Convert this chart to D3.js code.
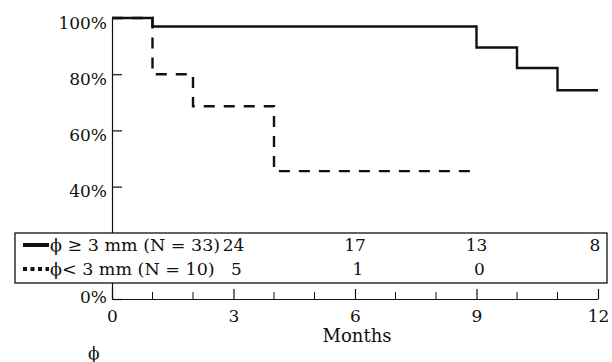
<!DOCTYPE html>
<html>
<head>
<meta charset="utf-8">
<script src="https://cdn.jsdelivr.net/npm/d3@7"></script>
<style>
  body { margin: 0; background: #fff; }
  text { font-family: "DejaVu Serif", serif; fill: #111; }
</style>
</head>
<body>
<div id="chart"></div>
<script>
// datos
const largeMonths = [0, 1, 9, 10, 11, 12];
const largeSurv = [100, 97, 89.5, 82.2, 74.3, 74.3];
const smallMonths = [0, 1, 2, 4, 9];
const smallSurv = [100, 80, 68.6, 45.5, 45.5];

const yTicks = [0, 20, 40, 60, 80, 100];
const xMajor = [0, 3, 6, 9, 12];
const xMinor = [1, 2, 4, 5, 7, 8, 10, 11];

const riskMonths = [3, 6, 9, 12];
const riskLarge = [24, 17, 13, 8];
const riskSmall = [5, 1, 0];
const legendLabels = ["ϕ ≥ 3 mm (N = 33)", "ϕ< 3 mm (N = 10)"];

const width = 612;
const height = 362;
const margin = { top: 18, bottom: 63, left: 112, right: 14 };

const svg = d3
  .select("div#chart")
  .append("svg")
  .attr("width", width)
  .attr("height", height);

const x = d3.scaleLinear().domain([0, 12]).range([margin.left, width - margin.right]);
const y = d3.scaleLinear().domain([0, 100]).range([height - margin.bottom, margin.top]);

// ejes
const xAxisGroup = svg.append("g").attr("transform", `translate(0, ${y(0)})`);
xAxisGroup.call(
  d3.axisBottom(x).tickValues(xMajor).tickSize(-10).tickPadding(11).tickSizeOuter(0)
);
xAxisGroup
  .selectAll(".minor")
  .data(xMinor)
  .enter()
  .append("line")
  .attr("class", "minor")
  .attr("x1", (d) => x(d))
  .attr("x2", (d) => x(d))
  .attr("y1", 0)
  .attr("y2", -7)
  .attr("stroke", "#111");

// la etiqueta 20% queda tapada por la caja de la leyenda
const yAxisGroup = svg.append("g").attr("transform", `translate(${x(0)}, 0)`);
yAxisGroup.call(
  d3.axisLeft(y).tickValues(yTicks).tickSize(-10).tickPadding(5).tickSizeOuter(0)
    .tickFormat((d) => (d == 20 ? "" : d + "%"))
);
yAxisGroup.selectAll(".tick text").attr("dy", (d) => (d == 0 ? "3px" : "10px"));

svg.selectAll(".domain, .tick line").attr("stroke", "#111").attr("stroke-width", 1.2);
svg.selectAll(".tick text")
  .attr("font-family", "DejaVu Serif")
  .attr("font-size", 17)
  .attr("fill", "#111");

// curvas
const line = d3.line().x((d) => x(d[0])).y((d) => y(d[1])).curve(d3.curveStepAfter);

svg.append("path")
  .datum(largeMonths.map((m, i) => [m, largeSurv[i]]))
  .attr("d", line)
  .attr("fill", "none")
  .attr("stroke", "#111")
  .attr("stroke-width", 2.4);

svg.append("path")
  .datum(smallMonths.map((m, i) => [m, smallSurv[i]]))
  .attr("d", line)
  .attr("fill", "none")
  .attr("stroke", "#111")
  .attr("stroke-width", 2.4)
  .attr("stroke-dasharray", "11,9");

// leyenda + pacientes en riesgo
const box = { x: 15, y: 233, w: 592, h: 50 };
svg.append("rect")
  .attr("x", box.x)
  .attr("y", box.y)
  .attr("width", box.w)
  .attr("height", box.h)
  .attr("fill", "#fff")
  .attr("stroke", "#111")
  .attr("stroke-width", 1.3);

const rows = [251, 275];
svg.append("line")
  .attr("x1", 23).attr("x2", 49)
  .attr("y1", rows[0] - 6).attr("y2", rows[0] - 6)
  .attr("stroke", "#111").attr("stroke-width", 4);
svg.append("line")
  .attr("x1", 23).attr("x2", 49)
  .attr("y1", rows[1] - 6).attr("y2", rows[1] - 6)
  .attr("stroke", "#111").attr("stroke-width", 4)
  .attr("stroke-dasharray", "4,3.5");

svg.selectAll(".legend-label")
  .data(legendLabels)
  .enter()
  .append("text")
  .attr("class", "legend-label")
  .attr("x", 50)
  .attr("y", (d, i) => rows[i])
  .attr("font-size", 17.5)
  .text((d) => d);

svg.selectAll(".risk-large")
  .data(riskLarge)
  .enter()
  .append("text")
  .attr("class", "risk-large")
  .attr("x", (d, i) => x(riskMonths[i]) - (i == 3 ? 3 : 0))
  .attr("y", rows[0])
  .attr("text-anchor", "middle")
  .attr("font-size", 17)
  .text((d) => d);

svg.selectAll(".risk-small")
  .data(riskSmall)
  .enter()
  .append("text")
  .attr("class", "risk-small")
  .attr("x", (d, i) => x(riskMonths[i]) + 3)
  .attr("y", rows[1])
  .attr("text-anchor", "middle")
  .attr("font-size", 17)
  .text((d) => d);

svg.append("text")
  .attr("x", x(6) + 2)
  .attr("y", 342)
  .attr("text-anchor", "middle")
  .attr("font-size", 18)
  .text("Months");

svg.append("text")
  .attr("x", 88)
  .attr("y", 359)
  .attr("font-size", 17)
  .text("ϕ");
</script>
</body>
</html>
